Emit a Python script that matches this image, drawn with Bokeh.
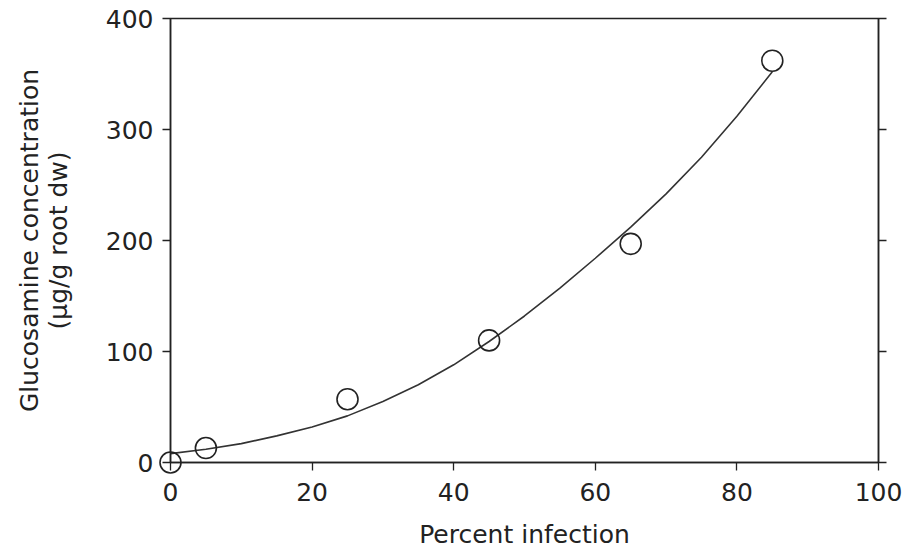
from bokeh.plotting import figure
from bokeh.models import Range1d, LinearAxis, FixedTicker
from bokeh.embed import file_html
from bokeh.resources import INLINE

# Measured data points
infection_pct = [0, 5, 25, 45, 65, 85]
glucosamine = [0, 13, 57, 110, 197, 362]

# Fitted curve
curve_x = [0, 5, 10, 15, 20, 25, 30, 35, 40, 45, 50, 55, 60, 65, 70, 75, 80, 85]
curve_y = [8, 12, 17, 24, 32, 42, 55, 70, 88, 109, 132, 157, 184, 212, 242, 275, 312, 352]

x_ticks = [0, 20, 40, 60, 80, 100]
y_ticks = [0, 100, 200, 300, 400]

FONT = "DejaVu Sans"
INK = "#222222"

p = figure(width=909, height=550, output_backend="svg", toolbar_location=None,
           x_range=Range1d(0, 100), y_range=Range1d(0, 400),
           min_border_left=170, min_border_top=18, min_border_right=31, min_border_bottom=88)
p.frame_width = 708
p.frame_height = 444
p.grid.visible = False
p.outline_line_color = INK
p.outline_line_width = 1.5
p.background_fill_color = "white"
p.border_fill_color = "white"

p.line(curve_x, curve_y, line_color="#333333", line_width=1.6)
p.scatter(infection_pct, glucosamine, marker="circle", size=21,
          fill_color=None, line_color=INK, line_width=1.6, level="overlay")

xa = p.xaxis[0]
xa.ticker = FixedTicker(ticks=x_ticks)
xa.axis_label = "Percent infection"
ya = p.yaxis[0]
ya.ticker = FixedTicker(ticks=y_ticks)
ya.axis_label = "Glucosamine concentration\n(\u03bcg/g root dw)"

for ax in (xa, ya):
    ax.axis_line_color = INK
    ax.axis_line_width = 1.5
    ax.major_tick_line_color = INK
    ax.major_tick_line_width = 1.3
    ax.major_tick_in = 0
    ax.major_tick_out = 8
    ax.minor_tick_line_color = None
    ax.major_label_text_font = FONT
    ax.major_label_text_font_size = "25px"
    ax.major_label_text_color = INK
    ax.axis_label_text_font = FONT
    ax.axis_label_text_font_size = "25px"
    ax.axis_label_text_font_style = "normal"
    ax.axis_label_text_color = INK

xa.major_label_standoff = 12
xa.axis_label_standoff = 16
ya.major_label_standoff = 9
ya.axis_label_standoff = 30
ya.axis_label_text_line_height = 1.0

ra = LinearAxis(ticker=FixedTicker(ticks=y_ticks), major_label_text_font_size="0px",
                major_tick_in=0, major_tick_out=8, minor_tick_line_color=None,
                axis_line_color=INK, axis_line_width=1.5, major_tick_line_color=INK,
                major_tick_line_width=1.3, major_label_standoff=0)
ra.major_label_overrides = {t: "" for t in y_ticks}
p.add_layout(ra, "right")

open("out.html", "w").write(file_html(p, INLINE))
